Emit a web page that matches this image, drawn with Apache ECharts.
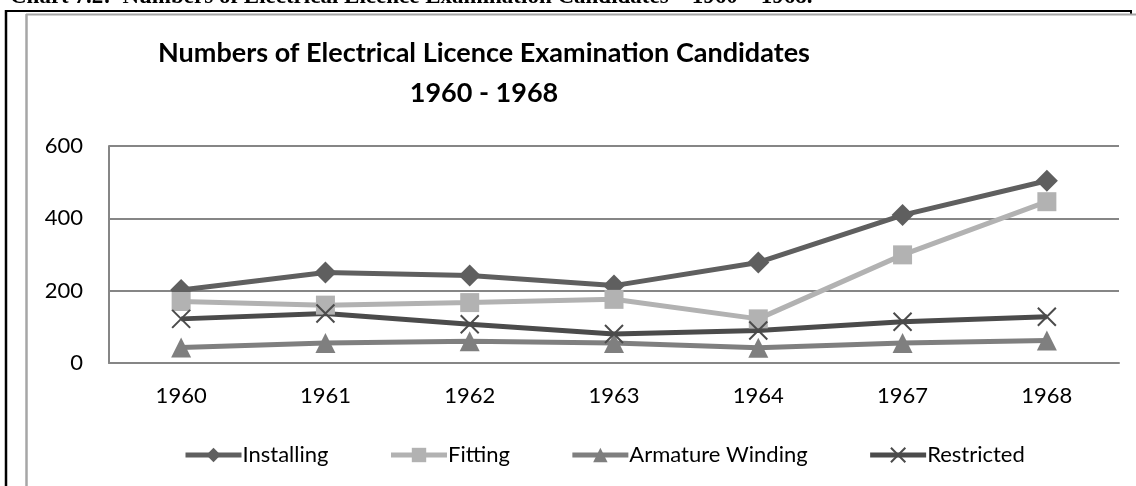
<!DOCTYPE html>
<html>
<head>
<meta charset="utf-8">
<script src="https://cdn.jsdelivr.net/npm/echarts@6/dist/echarts.min.js"></script>
<style>
  html, body { margin: 0; padding: 0; background: #fff; }
  #main { width: 1136px; height: 486px; }
</style>
</head>
<body>
<div id="main"></div>
<script>
const chart = echarts.init(document.querySelector('#main'));

// data
const years = ['1960', '1961', '1962', '1963', '1964', '1967', '1968'];
const installing = [202, 250, 242, 214, 278, 409, 504];
const fitting = [170, 160, 167, 176, 122, 299, 446];
const armature = [43, 55, 60, 55, 42, 55, 62];
const restricted = [122, 137, 107, 80, 90, 114, 128];
const yTicks = [0, 200, 400, 600];

const font = 'Lato, "Open Sans", sans-serif';

function makeSeries(name, data, color, symbol, size) {
    return {
        name: name,
        type: 'line',
        data: data,
        symbol: symbol,
        symbolSize: size,
        showAllSymbol: true,
        lineStyle: { color: color, width: 5 },
        itemStyle: { color: color },
        emphasis: { disabled: true }
    };
}

let crossSeries = makeSeries('Restricted', restricted, '#4b4b4b', 'path://M0,0L10,10M10,0L0,10', 18);
crossSeries.itemStyle = { color: 'rgba(0,0,0,0)', borderColor: '#4b4b4b', borderWidth: 2 };

let option = {
    animation: false,
    backgroundColor: '#fff',
    title: {
        text: 'Numbers of Electrical Licence Examination Candidates\n1960 - 1968',
        left: 479,
        textAlign: 'center',
        top: 28,
        textStyle: {
            fontFamily: font,
            fontWeight: 'bold',
            fontSize: 27,
            lineHeight: 40,
            color: '#000'
        }
    },
    graphic: [
        {
            type: 'text',
            x: 10,
            y: 9,
            style: {
                text: 'Chart 7.2:  Numbers of Electrical Licence Examination Candidates \u2013 1960 \u2013 1968.',
                fontFamily: '"Liberation Serif", serif',
                fontWeight: 'bold',
                fontSize: 23,
                verticalAlign: 'bottom',
                fill: '#000'
            }
        },
        { type: 'line', shape: { x1: 5, y1: 11, x2: 1132, y2: 11 }, style: { stroke: '#000', lineWidth: 2 } },
        { type: 'line', shape: { x1: 1131, y1: 11, x2: 1131, y2: 15 }, style: { stroke: '#000', lineWidth: 2 } },
        { type: 'line', shape: { x1: 6, y1: 10, x2: 6, y2: 486 }, style: { stroke: '#000', lineWidth: 2.5 } },
        { type: 'line', shape: { x1: 26, y1: 14.5, x2: 1136, y2: 14.5 }, style: { stroke: '#a6a6a6', lineWidth: 2 } },
        { type: 'line', shape: { x1: 26.5, y1: 14, x2: 26.5, y2: 486 }, style: { stroke: '#a6a6a6', lineWidth: 2.5 } }
    ],
    legend: {
        bottom: 15,
        left: 178,
        itemWidth: 56,
        itemHeight: 18,
        itemGap: 60,
        lineStyle: { width: 5 },
        textStyle: { fontFamily: font, fontSize: 22, color: '#000', padding: [0, 0, 0, -4] },
        data: ['Installing', 'Fitting', 'Armature Winding', 'Restricted']
    },
    grid: { left: 109, right: 17, top: 146, bottom: 123 },
    xAxis: {
        type: 'category',
        data: years,
        boundaryGap: true,
        axisLine: { lineStyle: { color: '#868686', width: 2 } },
        axisTick: { show: false },
        axisLabel: { fontFamily: font, fontSize: 22, color: '#000', margin: 22 }
    },
    yAxis: {
        type: 'value',
        min: yTicks[0],
        max: yTicks[yTicks.length - 1],
        interval: 200,
        axisLine: { show: true, lineStyle: { color: '#868686', width: 2 } },
        axisTick: { show: false },
        splitLine: { lineStyle: { color: '#868686', width: 2 } },
        axisLabel: { fontFamily: font, fontSize: 22, color: '#000', margin: 26 }
    },
    series: [
        makeSeries('Installing', installing, '#5f5f5f', 'diamond', 22),
        makeSeries('Fitting', fitting, '#b2b2b2', 'rect', 19),
        makeSeries('Armature Winding', armature, '#7f7f7f', 'triangle', 20),
        crossSeries
    ]
};

chart.setOption(option);
</script>
</body>
</html>
